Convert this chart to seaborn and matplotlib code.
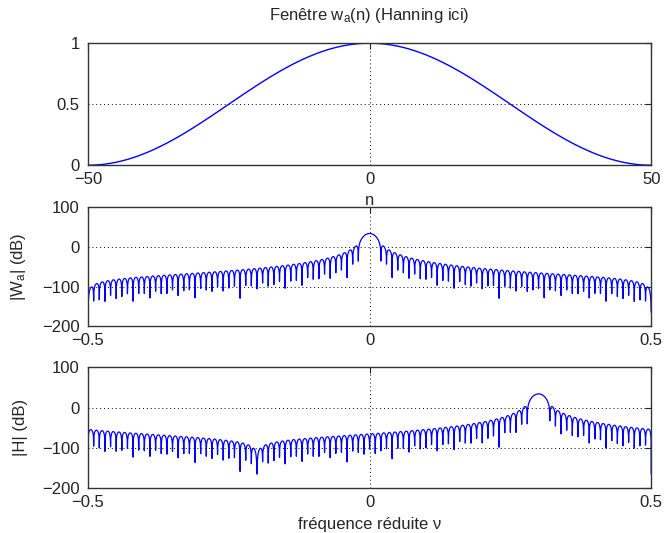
import matplotlib
matplotlib.use("Agg")
import matplotlib.pyplot as plt
import numpy as np
import pandas as pd
import seaborn as sns

# window / analysis parameters
n_half = 50                 # window spans n = -50 .. 50
n_freq = 12064              # frequency samples on [-0.5, 0.5]
nu_shift = 0.3              # |H| main lobe position
floor_db = -165             # numerical floor of the deepest notches
n_ticks = [-50, 0, 50]
w_ticks = [0, 0.5, 1]
nu_ticks = [-0.5, 0, 0.5]
db_ticks = [-200, -100, 0, 100]

n = np.arange(-n_half, n_half + 1)
w = 0.5 * (1 + np.cos(np.pi * n / n_half))          # Hanning window

nu = np.linspace(-0.5, 0.5, n_freq)
E = np.exp(-2j * np.pi * np.outer(nu, n))
Wa = E @ w
H = E @ (w * np.exp(2j * np.pi * nu_shift * n))


def to_db(x):
    return np.maximum(20 * np.log10(np.abs(x) + 1e-300), floor_db)


df_w = pd.DataFrame({"n": n, "w": w})
df_W = pd.DataFrame({"nu": nu, "db": to_db(Wa)})
df_H = pd.DataFrame({"nu": nu, "db": to_db(H)})

sns.set_style("white")
plt.rcParams["font.family"] = ["Liberation Sans", "DejaVu Sans"]
plt.rcParams["mathtext.fontset"] = "custom"
plt.rcParams["mathtext.rm"] = "Liberation Sans"
plt.rcParams["mathtext.it"] = "Liberation Sans"
plt.rcParams["font.size"] = 12

fig = plt.figure(figsize=(6.72, 5.33), dpi=100)
ax1 = fig.add_axes([0.131, 0.690, 0.838, 0.229])
ax2 = fig.add_axes([0.131, 0.388, 0.838, 0.223])
ax3 = fig.add_axes([0.131, 0.084, 0.838, 0.227])

blue = "#0000ff"
sns.lineplot(data=df_w, x="n", y="w", ax=ax1, color=blue, lw=1.0, estimator=None)
sns.lineplot(data=df_W, x="nu", y="db", ax=ax2, color=blue, lw=0.9, estimator=None)
sns.lineplot(data=df_H, x="nu", y="db", ax=ax3, color=blue, lw=0.9, estimator=None)

ax1.set_xlim(-50, 50)
ax1.set_ylim(0, 1)
ax1.set_xticks(n_ticks)
ax1.set_xticklabels(["−50", "0", "50"])
ax1.set_yticks(w_ticks)
ax1.set_yticklabels(["0", "0.5", "1"])
ax1.set_title(r"Fenêtre w$_\mathrm{a}$(n) (Hanning ici)", fontsize=12, pad=17)
ax1.set_xlabel("n", labelpad=4)
ax1.set_ylabel("")

for ax in (ax2, ax3):
    ax.set_xlim(-0.5, 0.5)
    ax.set_ylim(-200, 100)
    ax.set_xticks(nu_ticks)
    ax.set_xticklabels(["−0.5", "0", "0.5"])
    ax.set_yticks(db_ticks)
    ax.set_yticklabels(["−200", "−100", "0", "100"])
    ax.set_xlabel("")

ax2.set_ylabel(r"|W$_\mathrm{a}$| (dB)", labelpad=10)
ax3.set_ylabel("|H| (dB)", labelpad=10)
ax3.set_xlabel("fréquence réduite ν", labelpad=5)

for ax in (ax1, ax2, ax3):
    ax.grid(True, color="black", linestyle=(0, (1, 3)), linewidth=0.7)
    ax.tick_params(direction="in", length=4, width=0.8, top=True, right=True,
                   labelsize=12, colors="#222222")
    ax.tick_params(axis="x", pad=5)
    ax.tick_params(axis="y", pad=6)
    for s in ax.spines.values():
        s.set_color("#333333")
        s.set_linewidth(1.0)

fig.savefig("out.png", dpi=100)
